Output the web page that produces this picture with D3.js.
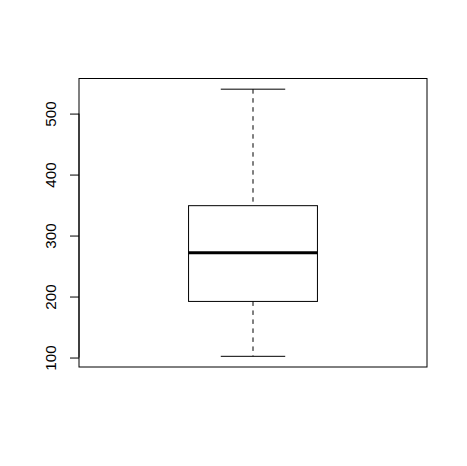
<!DOCTYPE html>
<html>
<head>
<meta charset="utf-8">
<script src="https://cdn.jsdelivr.net/npm/d3@7"></script>
<style>
  body { margin: 0; background: #fff; }
  svg { display: block; }
</style>
</head>
<body>
<svg id="chart"></svg>
<script>
// box stats
var stats = [
    { lower: 102, q1: 192, median: 272, q3: 349, upper: 540 }
];
var yTicks = [100, 200, 300, 400, 500];

var dimensions = {
    width: 467,
    height: 466,
    margin: { top: 78.5, bottom: 99, left: 79, right: 40 }
};

var svg = d3.select("#chart")
    .attr("width", dimensions.width)
    .attr("height", dimensions.height);

// R style 4% padding on the data range
var lo = d3.min(stats, d => d.lower);
var hi = d3.max(stats, d => d.upper);
var pad = (hi - lo) * 0.04;

var yScale = d3.scaleLinear()
    .domain([lo - pad, hi + pad])
    .range([dimensions.height - dimensions.margin.bottom, dimensions.margin.top]);

var xScale = d3.scaleLinear()
    .domain([0.5 - 0.04, stats.length + 0.5 + 0.04])
    .range([dimensions.margin.left, dimensions.width - dimensions.margin.right]);

// frame
svg.append("rect")
    .attr("x", dimensions.margin.left)
    .attr("y", dimensions.margin.top)
    .attr("width", dimensions.width - dimensions.margin.left - dimensions.margin.right)
    .attr("height", dimensions.height - dimensions.margin.top - dimensions.margin.bottom)
    .attr("fill", "none")
    .attr("stroke", "#000")
    .attr("stroke-width", 1);

// left axis, rotated labels like R
var axis = svg.append("g")
    .attr("transform", `translate(${dimensions.margin.left},0)`)
    .call(d3.axisLeft(yScale).tickValues(yTicks).tickSize(9).tickPadding(0));

axis.select(".domain")
    .attr("d", `M0,${yScale(yTicks[0])}V${yScale(yTicks[yTicks.length - 1])}`)
    .attr("stroke", "#000");

axis.selectAll(".tick line").attr("stroke", "#000");

axis.selectAll(".tick text")
    .attr("x", null)
    .attr("dy", null)
    .attr("transform", "translate(-23,0) rotate(-90)")
    .attr("text-anchor", "middle")
    .attr("fill", "#000")
    .style("font-family", "'Liberation Sans', Arial, sans-serif")
    .style("font-size", "15.2px");

var boxes = svg.selectAll(".box")
    .data(stats)
    .enter()
    .append("g")
    .attr("class", "box");

var boxHalf = 0.2, capHalf = 0.1;

// whiskers
boxes.append("line")
    .attr("x1", (d, i) => xScale(i + 1))
    .attr("x2", (d, i) => xScale(i + 1))
    .attr("y1", d => yScale(d.upper))
    .attr("y2", d => yScale(d.q3))
    .attr("stroke", "#000")
    .attr("stroke-dasharray", "4.5,4.5");

boxes.append("line")
    .attr("x1", (d, i) => xScale(i + 1))
    .attr("x2", (d, i) => xScale(i + 1))
    .attr("y1", d => yScale(d.q1))
    .attr("y2", d => yScale(d.lower))
    .attr("stroke", "#000")
    .attr("stroke-dasharray", "4.5,4.5");

// caps
["upper", "lower"].forEach(function(k) {
    boxes.append("line")
        .attr("x1", (d, i) => xScale(i + 1 - capHalf))
        .attr("x2", (d, i) => xScale(i + 1 + capHalf))
        .attr("y1", d => yScale(d[k]))
        .attr("y2", d => yScale(d[k]))
        .attr("stroke", "#000");
});

// box
boxes.append("rect")
    .attr("x", (d, i) => xScale(i + 1 - boxHalf))
    .attr("y", d => yScale(d.q3))
    .attr("width", xScale(1 + boxHalf) - xScale(1 - boxHalf))
    .attr("height", d => yScale(d.q1) - yScale(d.q3))
    .attr("fill", "none")
    .attr("stroke", "#000");

// median
boxes.append("line")
    .attr("x1", (d, i) => xScale(i + 1 - boxHalf))
    .attr("x2", (d, i) => xScale(i + 1 + boxHalf))
    .attr("y1", d => yScale(d.median))
    .attr("y2", d => yScale(d.median))
    .attr("stroke", "#000")
    .attr("stroke-width", 3);
</script>
</body>
</html>
